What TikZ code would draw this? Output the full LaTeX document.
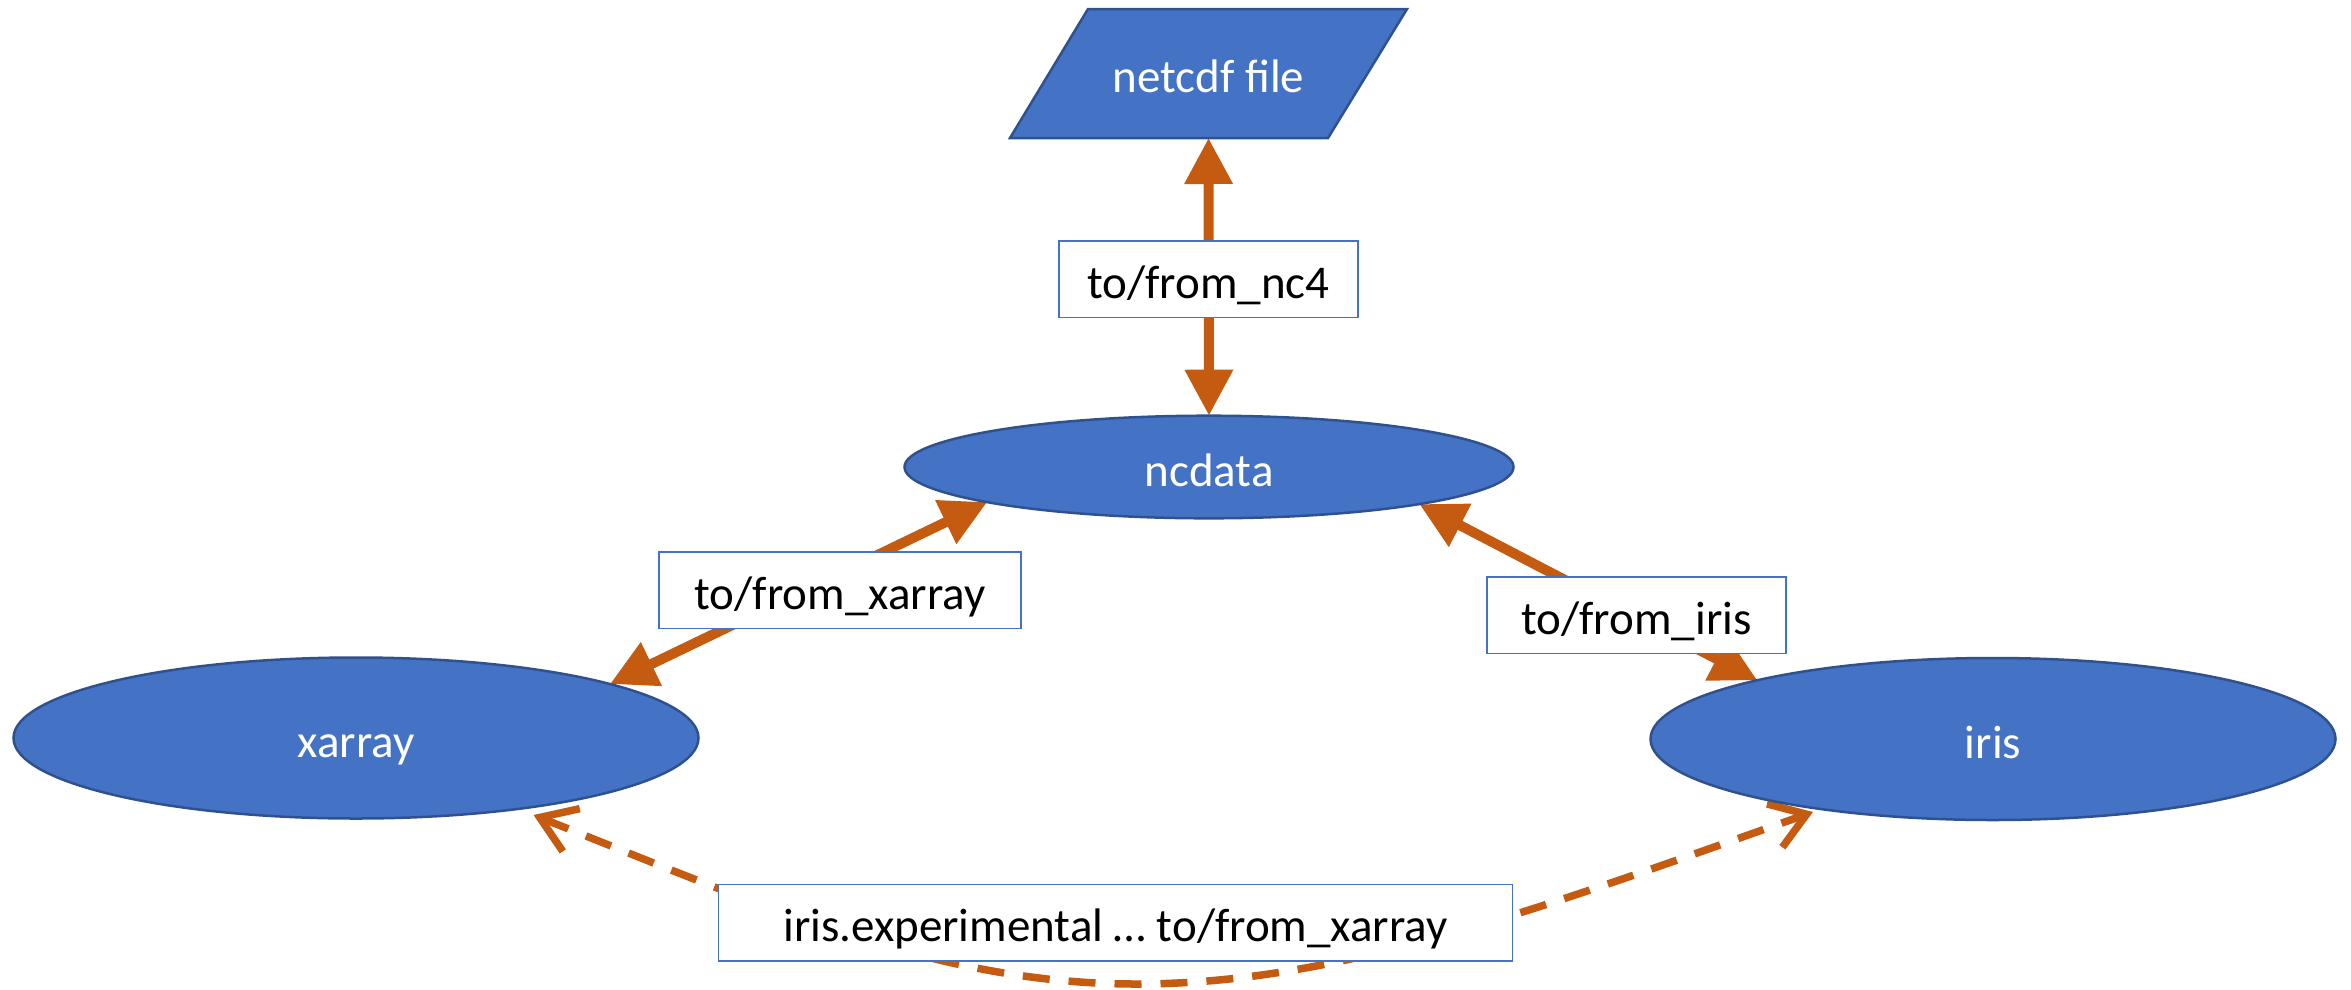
\documentclass[tikz,border=0pt]{standalone}
\usepackage{fontspec}
\setmainfont{Carlito}
\usetikzlibrary{shapes.geometric,arrows.meta}
\definecolor{shapeblue}{HTML}{4472C4}
\definecolor{shapeedge}{HTML}{2F528F}
\definecolor{arroworange}{HTML}{C55A11}
\pgfdeclarelayer{bg}
\pgfsetlayers{bg,main}
\begin{document}
\begin{tikzpicture}[x=1pt,y=-1pt,
  txt/.style={font=\fontsize{47}{56}\selectfont, text height=44.6pt, text depth=6.6pt, inner sep=0pt, outer sep=0pt},
  blob/.style={txt, ellipse, fill=shapeblue, draw=shapeedge, line width=2.5pt, text=white},
  tag/.style={txt, rectangle, fill=white, draw=shapeblue, line width=1.5pt, text=black, minimum height=76.5pt},
  biarrow/.style={draw=arroworange, line width=10pt, {Triangle[length=46pt,width=46pt]}-{Triangle[length=46pt,width=46pt]}},
  dasharrow/.style={draw=arroworange, line width=7.5pt, dash pattern=on 27pt off 19pt, {Straight Barb[length=34pt,width=46pt,sharp]}-{Straight Barb[length=34pt,width=46pt,sharp]}}
]
\useasboundingbox (0,0) rectangle (2351,989);
% parallelogram of the netcdf file
\filldraw[fill=shapeblue, draw=shapeedge, line width=2.5pt] (1010,138) -- (1088,9) -- (1407,9) -- (1328,138) -- cycle;
\node[txt, text=white, minimum width=318pt, minimum height=129pt] (netcdf) at (1208.5,73.5) {netcdf file};
\node[blob, minimum width=609pt, minimum height=102.6pt] (ncdata) at (1209,467) {ncdata};
\node[blob, minimum width=685pt, minimum height=161pt] (xarray) at (356,738) {xarray};
\node[blob, minimum width=685pt, minimum height=162pt] (iris) at (1993,739) {iris};
\coordinate (dl) at (533.5,815);
\coordinate (dm) at (1136,984);
\coordinate (dr) at (1813,812);
\begin{pgfonlayer}{bg}
\draw[biarrow] (netcdf.south) -- (ncdata.north);
\draw[biarrow] (ncdata.189.6) -- (xarray.12.5);
\draw[biarrow] (ncdata.350) -- (iris.166.7);
\draw[dasharrow] (dl) .. controls (765.8,907.3) and (936,984) .. (dm) .. controls (1336,984) and (1530.1,912.2) .. (dr);
\end{pgfonlayer}
\node[tag, minimum width=299pt] (lnc4) at (1208.5,279) {to/from\_nc4};
\node[tag, minimum width=362pt] (lxarray) at (840,590) {to/from\_xarray};
\node[tag, minimum width=299pt] (liris) at (1636.5,615) {to/from\_iris};
\node[tag, minimum width=794pt] (lexp) at (1115.5,922.5) {iris.experimental … to/from\_xarray};
\end{tikzpicture}
\end{document}
